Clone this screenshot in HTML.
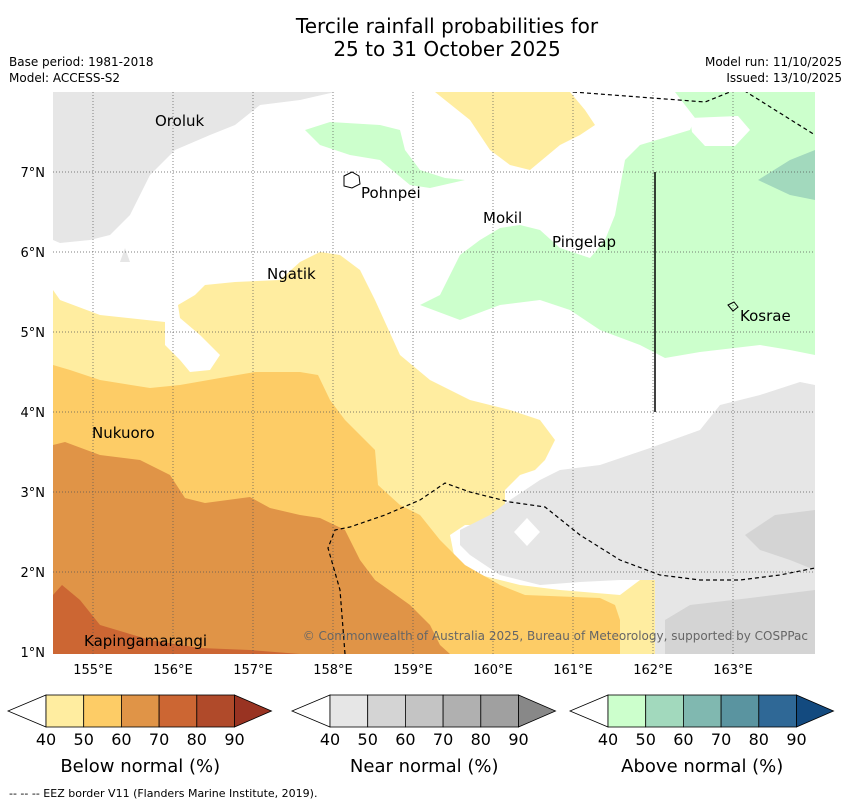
<!DOCTYPE html>
<html><head><meta charset="utf-8"><style>
body{margin:0;background:#fff;font-family:"Liberation Sans","DejaVu Sans",sans-serif}
svg text{font-family:"DejaVu Sans","Liberation Sans",sans-serif}
</style></head><body>
<svg width="850" height="804" viewBox="0 0 850 804" xmlns="http://www.w3.org/2000/svg">
<text x="447" y="33" font-size="20" text-anchor="middle">Tercile rainfall probabilities for</text>
<text x="447" y="56" font-size="20" text-anchor="middle">25 to 31 October 2025</text>
<text x="9" y="66" font-size="12">Base period: 1981-2018</text>
<text x="9" y="82" font-size="12">Model: ACCESS-S2</text>
<text x="842" y="66" font-size="12" text-anchor="end">Model run: 11/10/2025</text>
<text x="842" y="82" font-size="12" text-anchor="end">Issued: 13/10/2025</text>
<defs><clipPath id="mc"><rect x="53" y="92" width="762" height="562"/></clipPath></defs>
<g clip-path="url(#mc)">
<rect x="53" y="92" width="762" height="562" fill="#fff"/>
<polygon fill="#e6e6e6" points="53,92 335,92 300,100 260,105 235,125 210,135 175,150 150,175 130,215 110,235 90,240 60,243 53,240"/>
<polygon fill="#e6e6e6" points="125,248 130,262 120,262"/>
<polygon fill="#ffeda0" points="53,290 60,300 100,315 165,322 165,345 180,360 190,372 210,370 220,355 200,335 180,318 178,305 195,295 205,285 235,282 280,280 300,262 320,252 340,255 360,270 375,300 400,355 430,380 470,400 510,410 540,420 555,440 545,460 535,470 520,475 505,490 505,515 495,525 465,525 450,535 455,560 480,575 520,585 560,590 620,595 640,580 655,580 655,654 53,654"/>
<polygon fill="#ffeda0" points="435,92 570,92 585,110 595,125 580,135 560,145 530,170 510,165 490,150 470,120"/>
<polygon fill="#fdcc66" points="53,365 70,370 100,380 150,388 180,385 220,378 255,372 300,372 318,375 330,400 345,420 375,450 378,485 400,505 420,515 440,540 465,565 500,585 525,595 600,598 615,605 620,620 620,654 53,654"/>
<polygon fill="#e09447" points="53,445 65,442 100,455 140,460 170,475 185,498 205,503 250,497 270,508 300,515 320,518 345,530 360,560 375,580 410,605 430,625 440,645 450,654 53,654"/>
<polygon fill="#cc6633" points="53,595 62,585 80,600 100,625 150,640 200,648 250,650 300,654 53,654"/>
<polygon fill="#e6e6e6" points="460,530 490,515 510,500 540,480 560,470 600,465 650,448 700,430 720,405 760,395 800,382 815,385 815,654 655,654 655,580 620,580 580,582 540,585 500,575 470,555 460,545"/>
<polygon fill="#fff" points="527,518 540,532 527,546 514,532"/>
<polygon fill="#d4d4d4" points="745,535 775,515 815,510 815,570 790,560 760,550"/>
<polygon fill="#d4d4d4" points="665,620 690,605 750,598 815,590 815,654 665,654"/>
<polygon fill="#ccffcc" points="305,130 330,122 380,125 400,130 405,150 420,170 445,178 465,180 430,188 410,185 380,160 350,155 320,145"/>
<polygon fill="#ccffcc" points="420,305 440,295 460,255 480,240 500,228 520,225 540,230 560,248 590,258 605,240 615,215 625,160 640,145 690,130 695,118 675,92 815,92 815,355 790,350 760,345 700,352 665,358 640,345 600,330 570,310 540,300 500,305 460,320"/>
<polygon fill="#fff" points="690,118 738,116 750,130 735,146 705,146 692,132"/>
<polygon fill="#a2d9bd" points="758,180 790,160 815,150 815,200 790,195"/>
<g stroke="#555" stroke-width="0.7" stroke-dasharray="1,2">
<line x1="93" y1="92" x2="93" y2="654"/><line x1="173" y1="92" x2="173" y2="654"/><line x1="253" y1="92" x2="253" y2="654"/><line x1="333" y1="92" x2="333" y2="654"/><line x1="413" y1="92" x2="413" y2="654"/><line x1="493" y1="92" x2="493" y2="654"/><line x1="573" y1="92" x2="573" y2="654"/><line x1="653" y1="92" x2="653" y2="654"/><line x1="733" y1="92" x2="733" y2="654"/>
<line x1="53" y1="172" x2="815" y2="172"/><line x1="53" y1="252" x2="815" y2="252"/><line x1="53" y1="332" x2="815" y2="332"/><line x1="53" y1="412" x2="815" y2="412"/><line x1="53" y1="492" x2="815" y2="492"/><line x1="53" y1="572" x2="815" y2="572"/>
</g>
<polyline fill="none" stroke="#000" stroke-width="1.2" stroke-dasharray="4,3" points="573,92 705,102 740,88 815,135"/>
<polyline fill="none" stroke="#000" stroke-width="1.2" stroke-dasharray="4,3" points="345,654 340,590 328,548 335,530 350,527 385,515 420,500 445,483 470,492 510,502 545,507 580,535 620,560 660,575 700,580 740,580 780,575 815,568"/>
<line x1="655" y1="172" x2="655" y2="412" stroke="#000" stroke-width="1.5"/>
<path d="M344,176 L352,172 L359,176 L360,184 L352,188 L344,186 Z" fill="none" stroke="#000"/>
<path d="M728,305 L734,302 L738,307 L733,311 Z" fill="none" stroke="#000"/>
<g font-size="15">
<text x="155" y="126">Oroluk</text><text x="361" y="198">Pohnpei</text><text x="483" y="223">Mokil</text><text x="552" y="247">Pingelap</text><text x="267" y="279">Ngatik</text><text x="740" y="321">Kosrae</text><text x="92" y="438">Nukuoro</text><text x="84" y="646">Kapingamarangi</text>
</g>
<text x="808" y="640" font-size="12" fill="#666" text-anchor="end">© Commonwealth of Australia 2025, Bureau of Meteorology, supported by COSPPac</text>
</g>
<g font-size="13" text-anchor="end">
<text x="45" y="177">7°N</text><text x="45" y="257">6°N</text><text x="45" y="337">5°N</text><text x="45" y="417">4°N</text><text x="45" y="497">3°N</text><text x="45" y="577">2°N</text><text x="45" y="657">1°N</text>
</g>
<g font-size="13" text-anchor="middle">
<text x="93" y="674">155°E</text><text x="173" y="674">156°E</text><text x="253" y="674">157°E</text><text x="333" y="674">158°E</text><text x="413" y="674">159°E</text><text x="493" y="674">160°E</text><text x="573" y="674">161°E</text><text x="653" y="674">162°E</text><text x="733" y="674">163°E</text>
</g>
<g id="cbars"></g>
<text x="9" y="797" font-size="11">--  --  -- EEZ border V11 (Flanders Marine Institute, 2019).</text>
</svg>
<script>
const bars=[
 {x:46,name:'below',title:'Below normal (%)',cols:['#ffeda0','#fdcc66','#e09447','#cc6633','#b04a2a','#993322']},
 {x:330,name:'near',title:'Near normal (%)',cols:['#e6e6e6','#d4d4d4','#c4c4c4','#b0b0b0','#a0a0a0','#888888']},
 {x:608,name:'above',title:'Above normal (%)',cols:['#ccffcc','#a2d9bd','#80b8b0','#5a94a0','#2f6896','#134a7f']}];
const ticks=[40,50,60,70,80,90];
const ns='http://www.w3.org/2000/svg',g=document.getElementById('cbars');
const w=37.7,y0=695,h=32;
function mk(t,a){const e=document.createElementNS(ns,t);for(const k in a)e.setAttribute(k,a[k]);g.appendChild(e);return e;}
bars.forEach(b=>{
 let e=mk('polygon',{points:`${b.x},${y0} ${b.x},${y0+h} ${b.x-38},${y0+h/2}`,fill:'#fff',stroke:'#000','stroke-width':0.8});
 
 
 for(let i=0;i<5;i++){
  e=mk('rect',{x:b.x+i*w,y:y0,width:w,height:h,fill:b.cols[i],stroke:'#000','stroke-width':0.8});
  
  
 }
 const xe=b.x+5*w;
 e=mk('polygon',{points:`${xe},${y0} ${xe},${y0+h} ${xe+37},${y0+h/2}`,fill:b.cols[5],stroke:'#000','stroke-width':0.8});
 
 
 ticks.forEach((t,i)=>{
  e=mk('text',{x:b.x+i*w,y:745,'font-size':16,'text-anchor':'middle'});e.textContent=t;
  
  
 });
 e=mk('text',{x:b.x+2.5*w,y:772,'font-size':18,'text-anchor':'middle'});e.textContent=b.title;
 
 
});
</script>
</body></html>
